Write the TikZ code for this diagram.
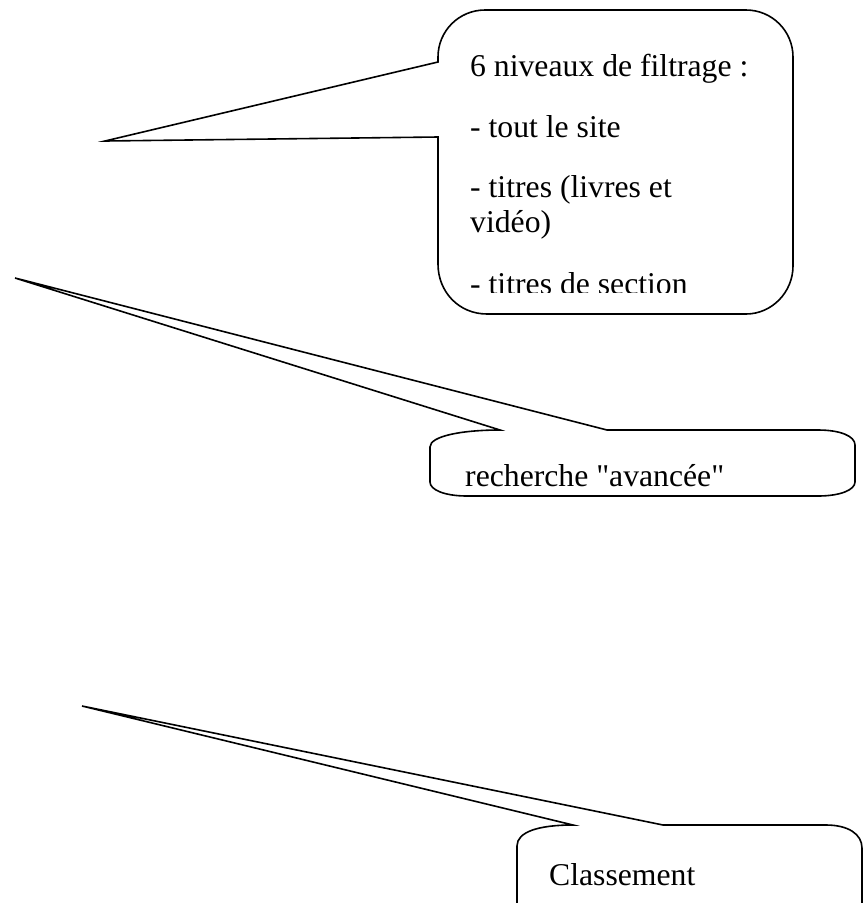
\documentclass[tikz,border=0pt]{standalone}
\usepackage{fontspec}
\setmainfont{Liberation Serif}[Ligatures=TeXOff]
\begin{document}
\begin{tikzpicture}[x=1pt,y=-1pt,
  callout/.style={draw=black,line width=1.6pt,line join=miter,fill=white},
  txt/.style={anchor=base west,inner sep=0pt,font=\fontsize{31.7}{35}\selectfont}]
\useasboundingbox (0,0) rectangle (864,903);
\clip (0,0) rectangle (864,903);

% callout 1
\coordinate (tip1) at (105,141);
\path[callout] (438,137) -- (438,264) .. controls (438,292) and (459,314) .. (487,314)
  -- (746,314) .. controls (772,314) and (793,292) .. (793,266)
  -- (793,57) .. controls (793,31) and (772,10) .. (746,10)
  -- (485,10) .. controls (459,10) and (438,31) .. (438,57)
  -- (438,62) -- (tip1) -- cycle;
\begin{scope}
\clip (440,12) rectangle (791,292);
\node[txt] (l1) at (470,76) {6 niveaux de filtrage :};
\node[txt] (l2) at (470,137) {- tout le site};
\node[txt] (l3) at (470,197) {- titres (livres et};
\node[txt] (l4) at (470,232) {vidéo)};
\node[txt] (l5) at (470,294) {- titres de section};
\end{scope}

% callout 2
\coordinate (tip2) at (15,278);
\path[callout] (607,430) -- (818,430) .. controls (840,430) and (855,436) .. (855,445)
  -- (855,482) .. controls (855,490) and (840,496) .. (818,496)
  -- (467,496) .. controls (445,496) and (430,490) .. (430,482)
  -- (430,447) .. controls (430,436) and (462,430) .. (500,430)
  -- (tip2) -- cycle;
\node[txt] (r1) at (465,486) {recherche "avancée"};

% callout 3
\coordinate (tip3) at (82,706);
\path[callout] (663,825) -- (826,825) .. controls (848,825) and (862,834) .. (862,848)
  -- (862,940) -- (517,940)
  -- (517,846) .. controls (517,832) and (538,825) .. (573,825)
  -- (tip3) -- cycle;
\node[txt] (c1) at (549,885) {Classement};
\end{tikzpicture}
\end{document}
